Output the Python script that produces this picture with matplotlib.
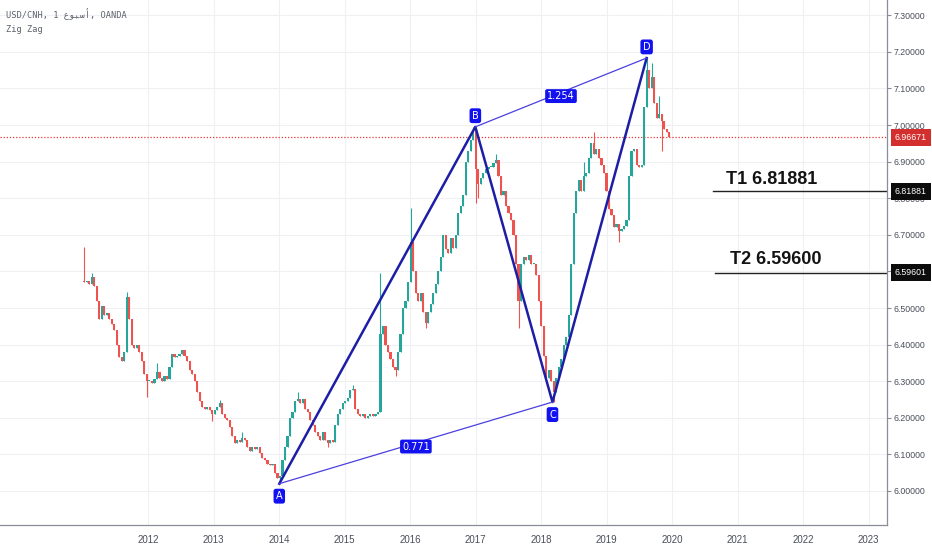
import numpy as np
import pandas as pd
import matplotlib
matplotlib.use("Agg")
import matplotlib.pyplot as plt
import matplotlib.dates as mdates
import matplotlib.transforms as mtransforms

# USD/CNH at two-week steps
first_open = 6.575
closes_2011 = [6.570, 6.575, 6.565, 6.585, 6.560, 6.520, 6.470, 6.505, 6.480, 6.485, 6.470, 6.455, 6.440,
               6.400, 6.365, 6.355, 6.380, 6.530, 6.470, 6.400, 6.390, 6.400, 6.380, 6.355, 6.320, 6.300]
closes_2012 = [6.300, 6.295, 6.305, 6.325, 6.310, 6.300, 6.315, 6.305, 6.340, 6.375, 6.365, 6.370, 6.375,
               6.385, 6.370, 6.355, 6.330, 6.320, 6.300, 6.270, 6.245, 6.230, 6.225, 6.230, 6.220, 6.210]
closes_2013 = [6.220, 6.230, 6.240, 6.210, 6.200, 6.195, 6.175, 6.150, 6.130, 6.140, 6.135, 6.145, 6.140,
               6.120, 6.110, 6.120, 6.115, 6.120, 6.105, 6.090, 6.085, 6.075, 6.070, 6.075, 6.050, 6.035]
closes_2014 = [6.040, 6.085, 6.120, 6.150, 6.200, 6.215, 6.245, 6.250, 6.240, 6.250, 6.225, 6.215, 6.195,
               6.180, 6.160, 6.150, 6.140, 6.160, 6.140, 6.130, 6.140, 6.135, 6.180, 6.210, 6.225, 6.240]
closes_2015 = [6.245, 6.255, 6.275, 6.280, 6.225, 6.210, 6.205, 6.210, 6.200, 6.205, 6.210, 6.205, 6.210,
               6.215, 6.430, 6.450, 6.400, 6.380, 6.360, 6.340, 6.330, 6.380, 6.430, 6.500, 6.520, 6.570]
closes_2016 = [6.680, 6.600, 6.540, 6.520, 6.540, 6.490, 6.460, 6.490, 6.510, 6.540, 6.565, 6.600, 6.640,
               6.700, 6.660, 6.650, 6.690, 6.665, 6.700, 6.760, 6.780, 6.810, 6.900, 6.930, 6.960, 6.985]
closes_2017 = [6.880, 6.840, 6.855, 6.870, 6.880, 6.885, 6.885, 6.895, 6.905, 6.860, 6.810, 6.820, 6.780,
               6.760, 6.740, 6.700, 6.620, 6.520, 6.620, 6.640, 6.630, 6.645, 6.620, 6.620, 6.590, 6.520]
closes_2018 = [6.450, 6.370, 6.310, 6.330, 6.300, 6.270, 6.310, 6.340, 6.360, 6.400, 6.420, 6.480, 6.620,
               6.760, 6.820, 6.850, 6.820, 6.860, 6.870, 6.910, 6.950, 6.920, 6.935, 6.910, 6.890, 6.870]
closes_2019 = [6.820, 6.770, 6.755, 6.720, 6.730, 6.710, 6.715, 6.725, 6.740, 6.860, 6.930, 6.935, 6.890,
               6.885, 6.890, 7.050, 7.150, 7.100, 7.130, 7.060, 7.020, 7.030, 7.010, 6.990, 6.980, 6.96671]

# visible wicks beyond the bodies: (bar index, price)
wick_highs = [(0, 6.667), (3, 6.596), (17, 6.544), (29, 6.350), (54, 6.250), (63, 6.160), (85, 6.270),
              (107, 6.290), (118, 6.596), (130, 6.773), (155, 6.995), (164, 6.920), (199, 6.900),
              (203, 6.980), (224, 7.183), (226, 7.170), (229, 7.080)]
wick_lows = [(25, 6.257), (51, 6.190), (78, 6.018), (97, 6.120), (124, 6.315), (136, 6.445), (156, 6.787),
             (157, 6.800), (173, 6.445), (187, 6.243), (213, 6.680), (230, 6.930)]

# zig zag pivots
zz_names = ["A", "B", "C", "D"]
zz_dates = ["2014-01-02", "2016-12-30", "2018-03-05", "2019-08-12"]
zz_prices = [6.020, 6.995, 6.243, 7.183]
ratio_ac = "0.771"
ratio_bd = "1.254"

last_price = 6.96671
t1_price, t1_text = 6.81881, "T1 6.81881"
t2_price, t2_text = 6.59601, "T2 6.59600"
year_ticks = list(range(2012, 2024))

closes = (closes_2011 + closes_2012 + closes_2013 + closes_2014 + closes_2015 +
          closes_2016 + closes_2017 + closes_2018 + closes_2019)
dates = pd.date_range("2011-01-10", periods=len(closes), freq="14D")
closes = np.array(closes)
opens = np.concatenate([[first_open], closes[:-1]])
highs = np.maximum(opens, closes)
lows = np.minimum(opens, closes)
for i, v in wick_highs:
    highs[i] = v
for i, v in wick_lows:
    lows[i] = v

UP, DOWN = "#26a69a", "#ef5350"
colors = np.where(closes >= opens, UP, DOWN)

fig = plt.figure(figsize=(9.32, 5.5), dpi=100)
ax = fig.add_axes([0, 1 - 525 / 550, 887 / 932, 525 / 550])

ax.vlines(dates, lows, highs, colors=colors, lw=0.8, zorder=3)
ax.bar(dates, np.maximum(np.abs(closes - opens), 0.003), bottom=np.minimum(opens, closes),
       width=12, color=colors, zorder=3)

zd = pd.to_datetime(zz_dates)
ax.plot(zd, zz_prices, color="#1d1da6", lw=1.8, zorder=4)
ax.plot([zd[0], zd[2]], [zz_prices[0], zz_prices[2]], color="#4b3fe0", lw=0.9, zorder=4)
ax.plot([zd[1], zd[3]], [zz_prices[1], zz_prices[3]], color="#4b3fe0", lw=0.9, zorder=4)

box = dict(boxstyle="round,pad=0.25", fc="#1212f0", ec="none")
for name, d, p, dy in zip(zz_names, zd, zz_prices, [-9, 8, -9, 8]):
    ax.annotate(name, xy=(d, p), xytext=(0, dy), textcoords="offset points", ha="center", va="center",
                color="white", fontsize=7, bbox=box, zorder=6)

xn = mdates.date2num(zd)
ax.text((xn[0] + xn[2]) / 2, (zz_prices[0] + zz_prices[2]) / 2 - 0.01, ratio_ac, ha="center", va="center",
        color="white", fontsize=7, bbox=dict(boxstyle="round,pad=0.2", fc="#1212f0", ec="none"), zorder=6)
ax.text((xn[1] + xn[3]) / 2, (zz_prices[1] + zz_prices[3]) / 2 - 0.01, ratio_bd, ha="center", va="center",
        color="white", fontsize=7, bbox=dict(boxstyle="round,pad=0.2", fc="#1212f0", ec="none"), zorder=6)

# last price and targets
ax.axhline(last_price, color="#e53935", ls=(0, (1, 1.5)), lw=0.9, zorder=2)
ax.axhline(t1_price, xmin=713 / 887, xmax=1, color="#222222", lw=1.0, zorder=2)
ax.axhline(t2_price, xmin=715 / 887, xmax=1, color="#222222", lw=1.0, zorder=2)
tb = mtransforms.blended_transform_factory(ax.transAxes, ax.transData)
ax.text(726 / 887, t1_price + 0.008, t1_text, transform=tb, ha="left", va="bottom",
        fontsize=13, fontweight="bold", family="Liberation Sans", color="#131313")
ax.text(730 / 887, t2_price + 0.012, t2_text, transform=tb, ha="left", va="bottom",
        fontsize=13, fontweight="bold", family="Liberation Sans", color="#131313")

for p, fc in [(last_price, "#d32f2f"), (t1_price, "#0c0c0c"), (t2_price, "#0c0c0c")]:
    ax.text(1.009, p, f"{p:.5f}", transform=tb, ha="left", va="center", color="white",
            fontsize=6.3, family="Liberation Sans", clip_on=False, zorder=10,
            bbox=dict(boxstyle="square,pad=0.45", fc=fc, ec="none"))

ax.set_xlim(pd.Timestamp("2009-09-28"), pd.Timestamp("2023-04-13"))
ax.set_ylim(6.0 - 34 / 366, 6.0 + 491 / 366)
ax.set_yticks(np.arange(6.0, 7.31, 0.1))
ax.yaxis.set_major_formatter(plt.FuncFormatter(lambda v, _: f"{v:.5f}"))
ax.yaxis.tick_right()
ax.set_xticks([pd.Timestamp(f"{y}-01-01") for y in year_ticks])
ax.set_xticklabels([str(y) for y in year_ticks])
ax.tick_params(axis="y", length=3, color="#8a8e99", labelsize=6.3, labelcolor="#4a4e5a", pad=2)
ax.tick_params(axis="x", length=0, labelsize=7, labelcolor="#4a4e5a", pad=7)
for lab in ax.get_xticklabels() + ax.get_yticklabels():
    lab.set_family("Liberation Sans")
ax.grid(color="#eef0f4", lw=0.8, zorder=0)
ax.set_axisbelow(True)
for s in ["top", "left"]:
    ax.spines[s].set_visible(False)
for s in ["right", "bottom"]:
    ax.spines[s].set_color("#8a8e99")
    ax.spines[s].set_linewidth(0.9)

# visual order of the Arabic word (presentation forms, right-to-left)
week = "\ufec9\ufeee\ufe92\ufeb3\ufe83"
fig.text(6 / 932, 1 - 14 / 550, f"USD/CNH, 1 {week}, OANDA", ha="left", va="center", fontsize=6.2,
         family=["DejaVu Sans Mono", "DejaVu Sans"], color="#5d606b")
fig.text(6 / 932, 1 - 29 / 550, "Zig Zag", ha="left", va="center", fontsize=6.2,
         family=["DejaVu Sans Mono", "DejaVu Sans"], color="#5d606b")

fig.savefig("out.png", dpi=100, facecolor="white")
